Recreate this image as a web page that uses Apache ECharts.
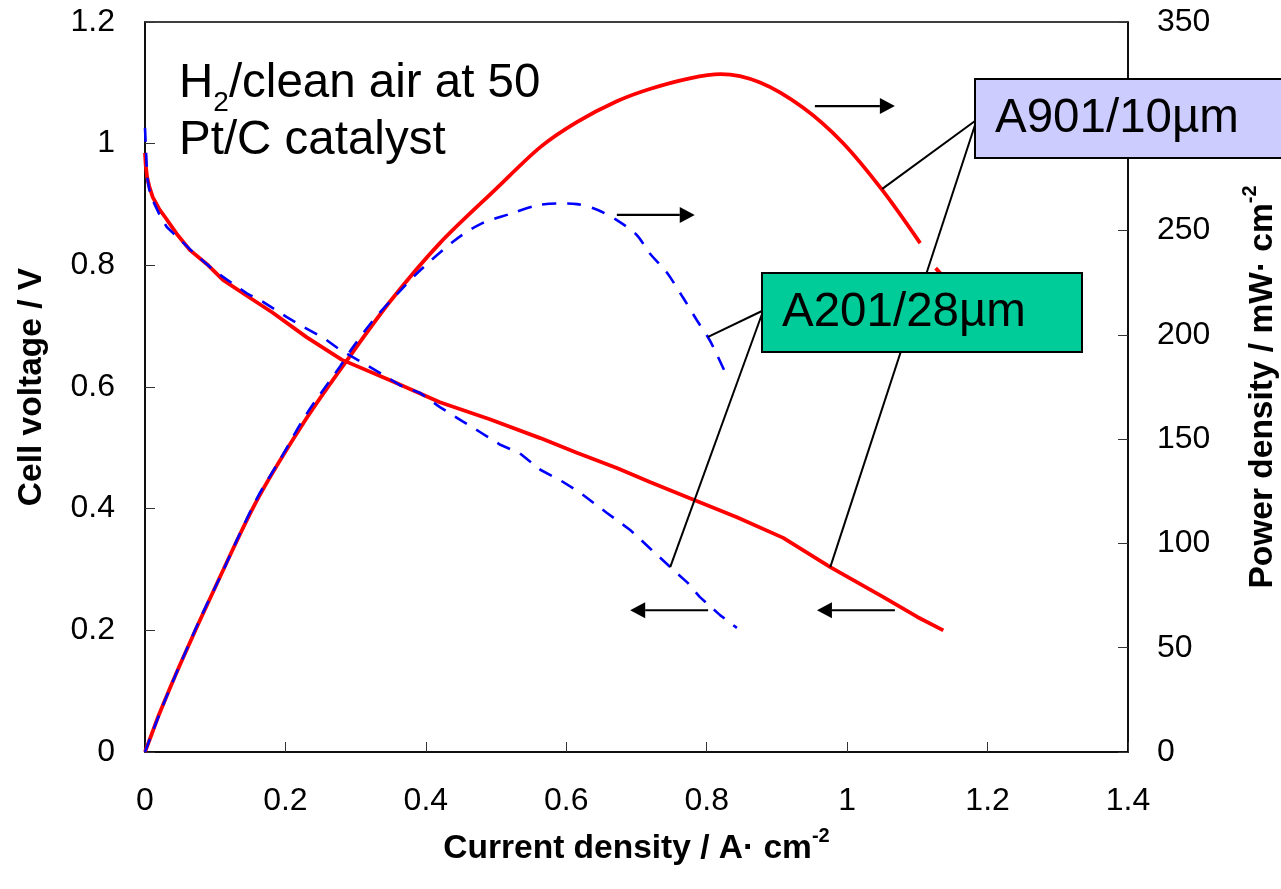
<!DOCTYPE html>
<html><head><meta charset="utf-8">
<script src="https://cdn.jsdelivr.net/npm/echarts@6.0.0/dist/echarts.min.js"></script>
<style>html,body{margin:0;padding:0;background:#fff}#c{width:1281px;height:889px}</style>
</head><body><div id="c"></div>
<script>
// ---- data ----
const xTickLabels = ['0','0.2','0.4','0.6','0.8','1','1.2','1.4'];
const vTickLabels = ['0','0.2','0.4','0.6','0.8','1','1.2'];
const pTickLabels = ['0','50','100','150','200','250','300','350'];

// A901/10µm (red) – cell voltage
const a901VoltCurrent = [0,0.001,0.003,0.006,0.011,0.02,0.03,0.045,0.064,0.09,0.111,0.145,0.182,0.23,0.28,0.349,0.42,0.491,0.563,0.615,0.672,0.719,0.776,0.843,0.909,0.976,1.051,1.1,1.137];
const a901Volt        = [0.985,0.965,0.945,0.93,0.912,0.893,0.877,0.852,0.825,0.80,0.776,0.75,0.722,0.682,0.645,0.611,0.575,0.547,0.516,0.492,0.467,0.444,0.417,0.386,0.352,0.304,0.255,0.222,0.2];
// A901/10µm (red) – power density (null = gap in the trace)
const a901PowCurrent  = [0,0.01,0.02,0.05,0.1,0.16,0.23,0.288,0.349,0.42,0.5,0.563,0.615,0.672,0.72,0.776,0.82,0.876,0.937,0.994,1.051,1.104,1.115,1.126,1.137];
const a901Pow         = [0,9,18,42,79,121,160,188,216,244,270,290,302,312,318,323,325,321,309,292,269,244,null,232,228];

// A201/28µm (blue) – cell voltage
const a201VoltCurrent = [0,0.001,0.003,0.006,0.011,0.02,0.031,0.05,0.07,0.093,0.111,0.145,0.168,0.202,0.225,0.254,0.278,0.311,0.335,0.363,0.392,0.42,0.453,0.477,0.506,0.534,0.563,0.591,0.62,0.658,0.691,0.719,0.748,0.773,0.79,0.819,0.843];
const a201Volt        = [1.026,1.0,0.945,0.925,0.907,0.885,0.863,0.842,0.82,0.797,0.781,0.754,0.74,0.715,0.699,0.681,0.661,0.639,0.623,0.603,0.59,0.567,0.543,0.526,0.505,0.491,0.464,0.447,0.426,0.393,0.365,0.335,0.304,0.278,0.255,0.225,0.204];
// A201/28µm (blue) – power density
const a201PowCurrent  = [0,0.01,0.03,0.05,0.08,0.11,0.13,0.16,0.192,0.23,0.278,0.296,0.325,0.363,0.392,0.44,0.477,0.52,0.557,0.587,0.615,0.644,0.672,0.7,0.719,0.743,0.766,0.786,0.805,0.829];
const a201Pow         = [0,9,26,42,65,86,101,122,140,162,185,194,207,221,231,245,253,258,262,263,262.7,260,255,248,239,230,218,207,197,180];

const zip = (xs, ys) => xs.map((x, i) => [x, ys[i]]);

const FONT = "'Liberation Sans', Arial, sans-serif";
const chart = echarts.init(document.getElementById('c'), null, {renderer: 'canvas'});

function labelFrom(arr, step){ return v => arr[Math.round(v/step)] ?? ''; }

const axisCommon = {
  axisLine: {show: true, lineStyle: {color: '#000', width: 1.5}},
  axisTick: {show: true, inside: true, length: 10, lineStyle: {color: '#333', width: 1}},
  splitLine: {show: false},
};
const nameRich = {
  sup: {fontSize: 20, fontWeight: 'bold', fontFamily: FONT, color: '#000', verticalAlign: 'top', lineHeight: 46}
};
const TICK = 32, TITLE = 33.5, BIG = 47.5;

chart.setOption({
  animation: false,
  backgroundColor: '#fff',
  grid: {left: 145, right: 153, top: 22, bottom: 137, outerBoundsMode: 'none', containLabel: false,
         show: true, borderColor: '#000', borderWidth: 1.5, backgroundColor: 'transparent'},
  xAxis: Object.assign({
    type: 'value', min: 0, max: 1.4, interval: 0.2,
    axisLabel: {fontSize: TICK, color: '#000', fontFamily: FONT, margin: 33, formatter: labelFrom(xTickLabels, 0.2)},
    name: 'Current density / A· cm{sup|-2}', nameLocation: 'middle', nameGap: 74,
    nameTextStyle: {fontSize: TITLE, fontWeight: 'bold', color: '#000', fontFamily: FONT, lineHeight: 46, rich: nameRich}
  }, axisCommon),
  yAxis: [
    Object.assign({
      type: 'value', min: 0, max: 1.2, interval: 0.2, position: 'left',
      axisLabel: {fontSize: TICK, color: '#000', fontFamily: FONT, margin: 30, formatter: labelFrom(vTickLabels, 0.2)},
      name: 'Cell voltage / V', nameLocation: 'middle', nameGap: 96,
      nameTextStyle: {fontSize: TITLE, fontWeight: 'bold', color: '#000', fontFamily: FONT}
    }, axisCommon),
    Object.assign({
      type: 'value', min: 0, max: 350, interval: 50, position: 'right',
      axisLabel: {fontSize: TICK, color: '#000', fontFamily: FONT, margin: 29, formatter: labelFrom(pTickLabels, 50)},
      name: 'Power density / mW· cm{sup|-2}', nameLocation: 'middle', nameGap: 112,
      nameTextStyle: {fontSize: TITLE, fontWeight: 'bold', color: '#000', fontFamily: FONT, lineHeight: 46, rich: nameRich}
    }, axisCommon)
  ],
  series: [
    {name: 'A901 V', type: 'line', yAxisIndex: 0, data: zip(a901VoltCurrent, a901Volt), showSymbol: false, symbol: 'none',
     smooth: false, lineStyle: {color: '#ff0000', width: 3.8}, z: 2},
    {name: 'A901 P', type: 'line', yAxisIndex: 1, data: zip(a901PowCurrent, a901Pow), showSymbol: false, symbol: 'none',
     smooth: 0.3, connectNulls: false, lineStyle: {color: '#ff0000', width: 3.8}, z: 2},
    {name: 'A201 V', type: 'line', yAxisIndex: 0, data: zip(a201VoltCurrent, a201Volt), showSymbol: false, symbol: 'none',
     smooth: false, lineStyle: {color: '#0000ff', width: 2.6, type: [14, 11]}, z: 3},
    {name: 'A201 P', type: 'line', yAxisIndex: 1, data: zip(a201PowCurrent, a201Pow), showSymbol: false, symbol: 'none',
     smooth: 0.3, lineStyle: {color: '#0000ff', width: 2.6, type: [14, 11]}, z: 3}
  ]
});

// ---- annotations ----
const px = (x, y, ax) => chart.convertToPixel({xAxisIndex: 0, yAxisIndex: ax}, [x, y]);
const ctx = document.createElement('canvas').getContext('2d');
const tw = (t, f) => { ctx.font = f; return ctx.measureText(t).width; };

const g = [];
function line(p1, p2, w, z){ g.push({type: 'line', z: z || 10, shape: {x1: p1[0], y1: p1[1], x2: p2[0], y2: p2[1]}, style: {stroke: '#000', lineWidth: w}}); }
function arrow(tail, tip, ax){
  const a = px(tail[0], tail[1], ax), b = px(tip[0], tip[1], ax);
  const dir = Math.sign(b[0] - a[0]);
  const hl = 15, hw = 8;
  line(a, [b[0] - dir*hl, b[1]], 2.2, 12);
  g.push({type: 'polygon', z: 12, shape: {points: [[b[0], b[1]], [b[0] - dir*hl, b[1] - hw], [b[0] - dir*hl, b[1] + hw]]}, style: {fill: '#000'}});
}
function txt(t, x, y, size){
  g.push({type: 'text', z: 30, x: x, y: y, style: {text: t, font: size + 'px ' + FONT, fill: '#000', verticalAlign: 'middle', align: 'left'}});
}

// arrows: power arrows on axis 1, voltage arrows on axis 0
arrow([0.954, 309.7], [1.068, 309.7], 1);
arrow([0.672, 257.5], [0.783, 257.5], 1);
arrow([0.802, 0.233], [0.691, 0.233], 0);
arrow([1.068, 0.233], [0.957, 0.233], 0);

// leader lines
line([975, 121], px(1.05, 270, 1), 2, 10);
line([975, 125], px(0.976, 0.304, 0), 2, 10);
line([762, 311], px(0.802, 199, 1), 2, 10);
line([762, 314], px(0.748, 0.304, 0), 2, 10);

// boxes
g.push({type: 'rect', z: 20, shape: {x: 975, y: 79, width: 340, height: 79}, style: {fill: '#ccccff', stroke: '#000', lineWidth: 2}});
g.push({type: 'rect', z: 20, shape: {x: 762, y: 273, width: 320, height: 79}, style: {fill: '#00cc99', stroke: '#000', lineWidth: 2}});
txt('A901/10µm', 995, 119, BIG);
txt('A201/28µm', 782, 313, BIG);

// condition text
const fBig = BIG + "px " + FONT, fSub = "28px " + FONT;
const hx = 179;
txt('H', hx, 84, BIG);
const sx = hx + tw('H', fBig);
txt('2', sx, 103, 28);
txt('/clean air at 50', sx + tw('2', fSub), 84, BIG);
txt('Pt/C catalyst', hx, 141, BIG);

chart.setOption({graphic: g});
</script>
</body></html>
